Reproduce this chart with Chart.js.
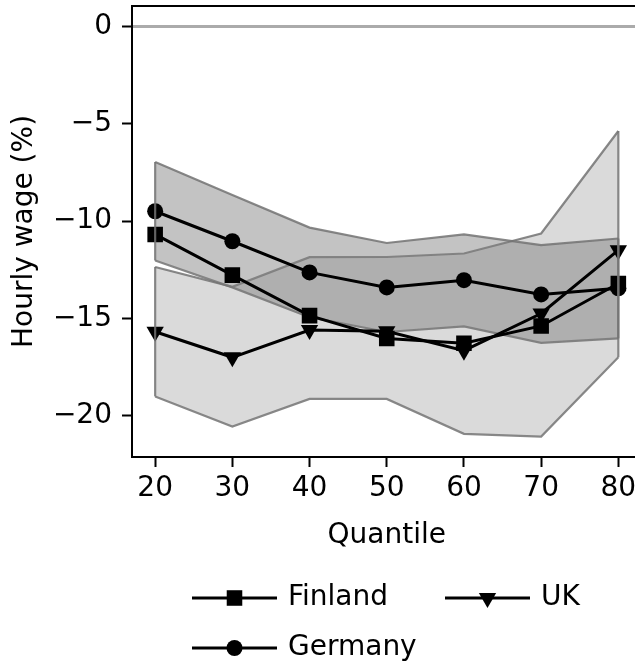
<!DOCTYPE html>
<html>
<head>
<meta charset="utf-8">
<script src="https://cdn.jsdelivr.net/npm/chart.js@4.4.1/dist/chart.umd.min.js"></script>
<style>
  html, body { margin: 0; padding: 0; background: #fff; overflow: hidden; }
  #wrap { width: 635px; height: 668px; overflow: hidden; }
</style>
</head>
<body>
<div id="wrap"><canvas id="chart" width="660" height="668"></canvas></div>
<script>
// values
const quantiles = [20, 30, 40, 50, 60, 70, 80];
const finland = [-10.68, -12.77, -14.85, -16.02, -16.27, -15.38, -13.2];
const germany = [-9.49, -11.03, -12.63, -13.4, -13.03, -13.76, -13.45];
const uk = [-15.68, -16.99, -15.59, -15.65, -16.65, -14.74, -11.49];
const germanyUpper = [-6.96, -8.65, -10.33, -11.12, -10.68, -11.23, -10.89];
const germanyLower = [-12.02, -13.4, -14.93, -15.69, -15.4, -16.25, -16.02];
const ukUpper = [-12.35, -13.37, -11.85, -11.84, -11.66, -10.63, -5.37];
const ukLower = [-19.0, -20.55, -19.13, -19.13, -20.92, -21.06, -16.99];
const xTicks = [20, 30, 40, 50, 60, 70, 80];
const yTicks = [0, -5, -10, -15, -20];

const FONT = 'DejaVu Sans';
const FS = 28;
Chart.defaults.font.family = FONT;
Chart.defaults.color = '#000';

function pts(arr) {
    return quantiles.map((q, i) => ({ x: q, y: arr[i] }));
}

const edge = 'rgba(115,115,115,0.85)';

function lineSet(label, arr, style, rot) {
    return {
        label: label,
        data: pts(arr),
        borderColor: '#000',
        borderWidth: 3,
        pointStyle: style,
        rotation: rot || 0,
        pointRadius: style === 'rect' ? 11 : (style === 'circle' ? 8 : 10),
        pointBackgroundColor: '#000',
        pointBorderColor: '#000',
        pointBorderWidth: 0,
        fill: false
    };
}

function bandSet(arr, fillColor) {
    return {
        data: pts(arr),
        borderColor: edge,
        borderWidth: 2.2,
        pointRadius: 0,
        backgroundColor: fillColor,
        fill: fillColor ? '+1' : false
    };
}

// zero line, spines, band end caps, legend
const extras = {
    id: 'extras',
    beforeDatasetsDraw(chart) {
        const { ctx, chartArea, scales } = chart;
        const y0 = scales.y.getPixelForValue(0);
        ctx.save();
        ctx.strokeStyle = '#ababab';
        ctx.lineWidth = 3;
        ctx.beginPath();
        ctx.moveTo(chartArea.left, y0);
        ctx.lineTo(chartArea.right, y0);
        ctx.stroke();
        ctx.restore();
    },
    afterDatasetsDraw(chart) {
        const { ctx } = chart;
        // vertical ends of the confidence bands
        ctx.save();
        ctx.strokeStyle = edge;
        ctx.lineWidth = 2.2;
        [[3, 4], [5, 6]].forEach(([a, b]) => {
            const ma = chart.getDatasetMeta(a).data;
            const mb = chart.getDatasetMeta(b).data;
            [0, ma.length - 1].forEach(i => {
                ctx.beginPath();
                ctx.moveTo(ma[i].x, ma[i].y);
                ctx.lineTo(mb[i].x, mb[i].y);
                ctx.stroke();
            });
        });
        ctx.restore();
    },
    afterDraw(chart) {
        const { ctx, chartArea } = chart;
        ctx.save();
        ctx.strokeStyle = '#000';
        ctx.lineWidth = 2;
        ctx.strokeRect(chartArea.left, chartArea.top, chartArea.right - chartArea.left, chartArea.bottom - chartArea.top);

        // legend: two columns, Finland / Germany then UK
        const slots = [[192, 598], [192, 648], [445, 598]];
        [0, 1, 2].forEach((di, k) => {
            const ds = chart.data.datasets[di];
            const [x, y] = slots[k];
            ctx.strokeStyle = '#000';
            ctx.lineWidth = 3;
            ctx.beginPath();
            ctx.moveTo(x, y);
            ctx.lineTo(x + 85, y);
            ctx.stroke();
            ctx.fillStyle = '#000';
            Chart.helpers.drawPoint(ctx, {
                pointStyle: ds.pointStyle,
                rotation: ds.rotation,
                radius: ds.pointRadius,
                borderWidth: 0
            }, x + 42.5, y);
            ctx.font = FS + 'px "' + FONT + '"';
            ctx.textBaseline = 'middle';
            ctx.textAlign = 'left';
            ctx.fillText(ds.label, x + 96, y);
        });
        ctx.restore();
    }
};

new Chart(document.getElementById('chart'), {
    type: 'line',
    data: {
        datasets: [
            lineSet('Finland', finland, 'rect'),
            lineSet('Germany', germany, 'circle'),
            lineSet('UK', uk, 'triangle', 180),
            bandSet(germanyUpper, 'rgba(128,128,128,0.47)'),
            bandSet(germanyLower, null),
            bandSet(ukUpper, 'rgba(128,128,128,0.29)'),
            bandSet(ukLower, null)
        ]
    },
    options: {
        responsive: false,
        animation: false,
        devicePixelRatio: 1,
        layout: { autoPadding: false, padding: { top: 6, left: 0, right: 18.5, bottom: 0 } },
        plugins: {
            legend: { display: false },
            tooltip: { enabled: false }
        },
        elements: { line: { tension: 0 } },
        scales: {
            x: {
                type: 'linear',
                min: 17,
                max: 83,
                afterBuildTicks: s => { s.ticks = xTicks.map(v => ({ value: v })); },
                afterFit: s => { s.height = 211; s.paddingLeft = 0; s.paddingRight = 0; },
                border: { display: false },
                grid: { drawOnChartArea: false, drawTicks: true, tickLength: 10, tickWidth: 2, tickColor: '#000' },
                ticks: { font: { size: FS }, padding: 5, maxRotation: 0 },
                title: { display: true, text: 'Quantile', font: { size: FS }, padding: { top: 0, bottom: 115 } }
            },
            y: {
                type: 'linear',
                min: -22.11,
                max: 1.05,
                afterBuildTicks: s => { s.ticks = yTicks.map(v => ({ value: v })); },
                afterFit: s => { s.width = 132; s.paddingTop = 0; s.paddingBottom = 0; },
                border: { display: false },
                grid: { drawOnChartArea: false, drawTicks: true, tickLength: 10, tickWidth: 2, tickColor: '#000' },
                ticks: {
                    font: { size: FS },
                    padding: 10,
                    callback: v => v < 0 ? '\u2212' + Math.abs(v) : String(v)
                },
                title: { display: true, text: 'Hourly wage (%)', font: { size: FS }, padding: { top: 8, bottom: 0 } }
            }
        }
    },
    plugins: [extras]
});
</script>
</body>
</html>
